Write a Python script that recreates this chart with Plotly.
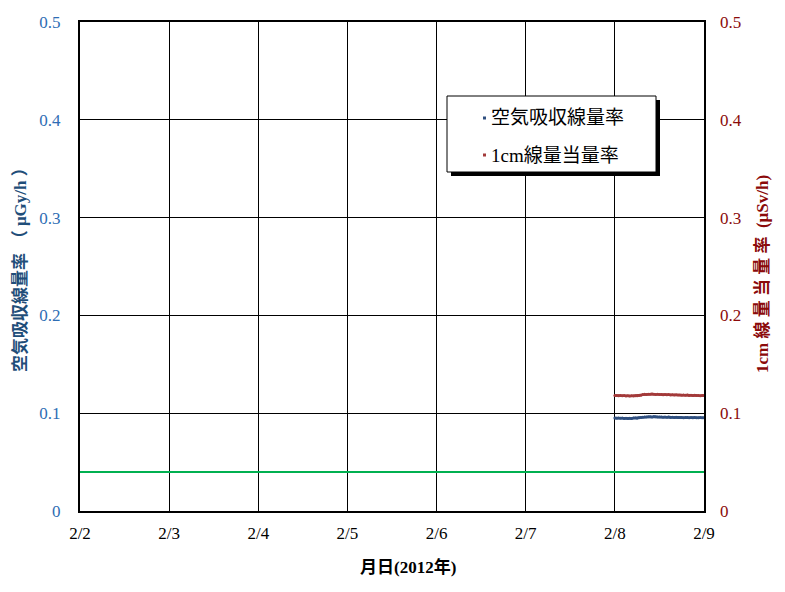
import plotly.graph_objects as go

# Time stamps (every 30 min on 2012-02-08)
times = [f"2012-02-08 {h:02d}:{m:02d}" for h in range(24) for m in (0, 30)] + ["2012-02-09 00:00"]

air_dose = [0.0950, 0.0949, 0.0951, 0.0948, 0.0950, 0.0947, 0.0949, 0.0946, 0.0948, 0.0947,
            0.0950, 0.0952, 0.0949, 0.0954, 0.0956, 0.0958, 0.0962, 0.0960, 0.0964, 0.0963,
            0.0961, 0.0965, 0.0963, 0.0962, 0.0960, 0.0961, 0.0959, 0.0960, 0.0958, 0.0960,
            0.0957, 0.0959, 0.0956, 0.0958, 0.0955, 0.0957, 0.0956, 0.0954, 0.0957, 0.0955,
            0.0954, 0.0956, 0.0953, 0.0955, 0.0954, 0.0953, 0.0955, 0.0954, 0.0953]

cm1_dose = [0.1180, 0.1182, 0.1179, 0.1181, 0.1178, 0.1180, 0.1177, 0.1179, 0.1176, 0.1178,
            0.1177, 0.1179, 0.1178, 0.1180, 0.1184, 0.1190, 0.1193, 0.1191, 0.1195, 0.1194,
            0.1196, 0.1193, 0.1192, 0.1194, 0.1190, 0.1192, 0.1189, 0.1191, 0.1188, 0.1190,
            0.1187, 0.1189, 0.1186, 0.1188, 0.1185, 0.1187, 0.1184, 0.1186, 0.1183, 0.1185,
            0.1182, 0.1184, 0.1181, 0.1183, 0.1180, 0.1182, 0.1179, 0.1181, 0.1180]

ref_x = ["2012-02-02", "2012-02-09"]
ref_y = [0.04, 0.04]

x_ticks = ["2012-02-02", "2012-02-03", "2012-02-04", "2012-02-05",
           "2012-02-06", "2012-02-07", "2012-02-08", "2012-02-09"]
x_labels = ["2/2", "2/3", "2/4", "2/5", "2/6", "2/7", "2/8", "2/9"]
y_ticks = [0, 0.1, 0.2, 0.3, 0.4, 0.5]
y_labels = ["0", "0.1", "0.2", "0.3", "0.4", "0.5"]

series_names = ["空気吸収線量率", "1cm線量当量率"]
series_colors = ["#2F4F7F", "#A33A3A"]

FONT = "Liberation Serif, Noto Sans CJK JP, serif"
BLUE = "#1F4E79"
TICKBLUE = "#2E6DB4"
RED = "#8B0A0A"

# page body has an 8px margin; compensate so plot area sits at 80..704 x 22..511
OFF = 8
W, H = 785 - OFF, 592 - OFF
ML, MR, MT, MB = 80 - OFF, 81, 22 - OFF, 81
PL, PR, PT, PB = 80, 704, 22, 511
pw, ph = PR - PL, PB - PT


def px(xp):
    return (xp - PL) / pw


def py(yp):
    return 1 - (yp - PT) / ph


fig = go.Figure()
fig.add_trace(go.Scatter(x=ref_x, y=ref_y, mode="lines",
                         line=dict(color="#00B050", width=2),
                         showlegend=False, hoverinfo="skip"))
fig.add_trace(go.Scatter(x=times, y=air_dose, mode="lines+markers", name=series_names[0],
                         line=dict(color=series_colors[0], width=2.5),
                         marker=dict(size=3, color=series_colors[0]), showlegend=False))
fig.add_trace(go.Scatter(x=times, y=cm1_dose, mode="lines+markers", name=series_names[1],
                         line=dict(color=series_colors[1], width=2.5),
                         marker=dict(size=3, color=series_colors[1]), yaxis="y2",
                         showlegend=False))

fig.update_layout(
    width=W, height=H,
    margin=dict(l=ML, r=MR, t=MT, b=MB, autoexpand=False),
    paper_bgcolor="white", plot_bgcolor="white",
    font=dict(family=FONT, size=17, color="black"),
    xaxis=dict(type="date", range=["2012-02-02", "2012-02-09"],
               tickvals=x_ticks, ticktext=x_labels,
               showgrid=True, gridcolor="black", gridwidth=1,
               showline=True, linecolor="black", linewidth=2, mirror=True,
               ticks="", ticklabelstandoff=6, zeroline=False,
               tickfont=dict(family=FONT, size=17, color="black")),
    yaxis=dict(range=[0, 0.5], tickvals=y_ticks, ticktext=y_labels,
               showgrid=True, gridcolor="black", gridwidth=1,
               showline=True, linecolor="black", linewidth=2, mirror=True,
               ticks="", ticklabelstandoff=14, zeroline=False,
               tickfont=dict(family=FONT, size=17, color=TICKBLUE)),
    yaxis2=dict(range=[0, 0.5], tickvals=y_ticks, ticktext=y_labels,
                overlaying="y", side="right", showgrid=False,
                showline=False, ticks="", ticklabelstandoff=15, zeroline=False,
                tickfont=dict(family=FONT, size=17, color=RED)),
    showlegend=False,
)

# Legend box (shadow + box) drawn in pixel-equivalent paper coordinates
fig.add_shape(type="rect", xref="paper", yref="paper",
              x0=px(451), x1=px(660), y0=py(176), y1=py(100),
              fillcolor="black", line=dict(width=0), layer="above")
fig.add_shape(type="rect", xref="paper", yref="paper",
              x0=px(447), x1=px(656), y0=py(172), y1=py(96),
              fillcolor="white", line=dict(color="black", width=1), layer="above")
for i, (name, col) in enumerate(zip(series_names, series_colors)):
    yc = 118 + 37 * i
    fig.add_shape(type="rect", xref="paper", yref="paper",
                  x0=px(483), x1=px(486), y0=py(yc + 1.5), y1=py(yc - 1.5),
                  fillcolor=col, line=dict(width=0), layer="above")
    fig.add_annotation(text=name, xref="paper", yref="paper",
                       x=px(489), y=py(yc), xanchor="left", yanchor="middle",
                       showarrow=False,
                       font=dict(family=FONT, size=19, color="black"))

fig.add_annotation(text="<b>空気吸収線量率\u2004（ μGy/h ）</b>", textangle=-90,
                   xref="paper", yref="paper", x=px(20), y=py(266),
                   xanchor="center", yanchor="middle",
                   showarrow=False, font=dict(family=FONT, size=17, color=BLUE))
fig.add_annotation(text="<b>1cm\u2005線\u2005量\u2005当\u2005量\u2005率\u2005\u2005(μSv/h)</b>",
                   textangle=-90,
                   xref="paper", yref="paper", x=px(762), y=py(274),
                   xanchor="center", yanchor="middle",
                   showarrow=False, font=dict(family=FONT, size=17, color=RED))
fig.add_annotation(text="<b>月日(2012年)</b>", xref="paper", yref="paper",
                   x=px(408), y=py(567), xanchor="center", yanchor="middle",
                   showarrow=False, font=dict(family=FONT, size=17, color="black"))

fig.write_html("out.html")
